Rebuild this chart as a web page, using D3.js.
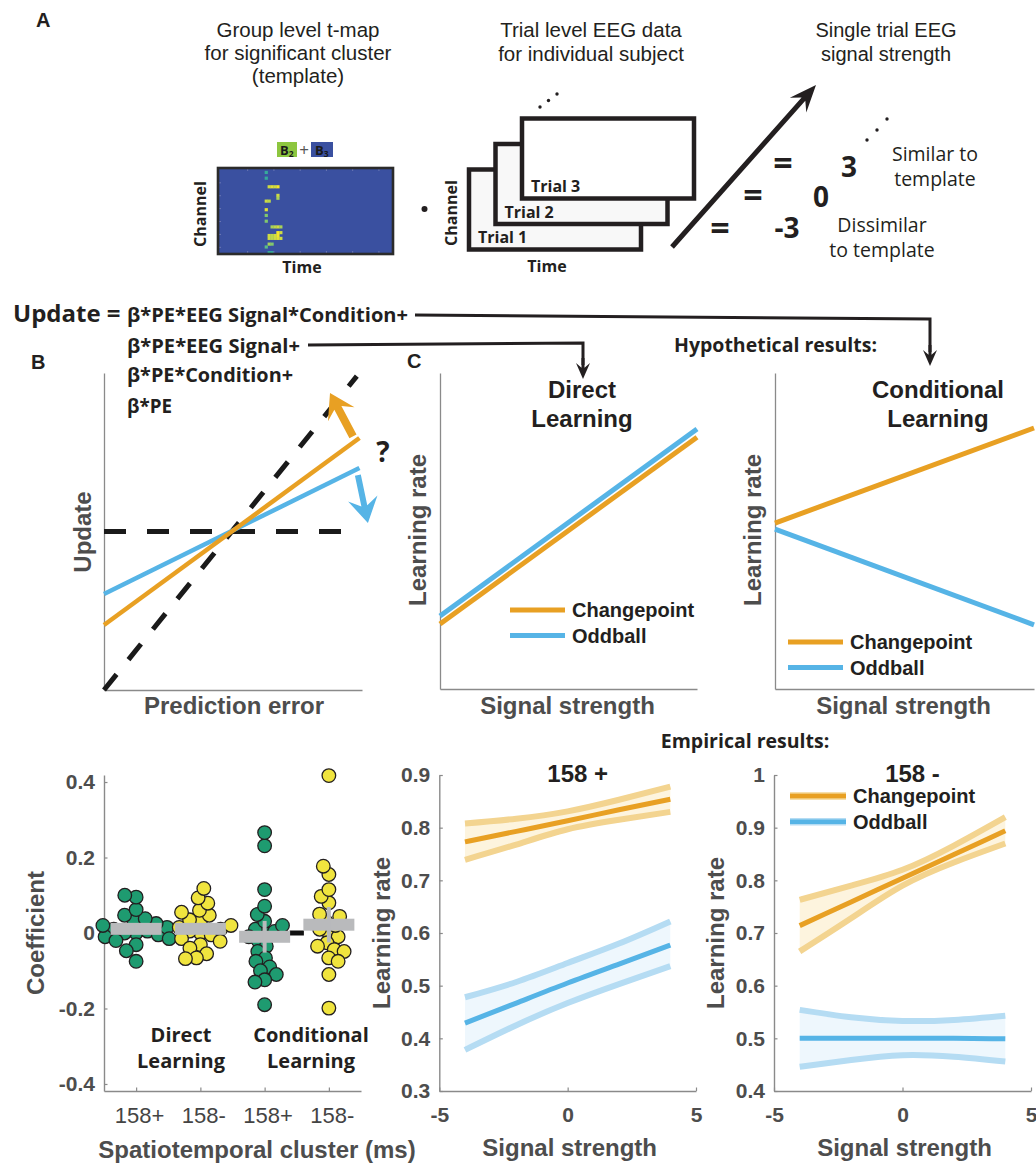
<!DOCTYPE html>
<html><head><meta charset="utf-8">
<script src="https://cdn.jsdelivr.net/npm/d3@7"></script>
<style>body{margin:0;background:#fff}svg{display:block}</style>
</head><body>
<svg id="fig" width="1036" height="1164"></svg>
<script>
// ---------------- DATA ----------------
// Panel A: template t-map spots [timeBin, channelBin, normalised t]
const tmapSpots = [[16,1,0.45],[16,3,0.45],[17,6,0.9],[18,6,0.95],[19,6,0.9],[20,6,1],[20,9,0.9],[16,11,0.9],[17,11,0.85],[20,10,0.8],[16,14,0.95],[16,16,0.7],[16,18,0.7],[18,20,0.8],[19,20,0.85],[20,20,0.9],[21,20,0.8],[20,22,1],[21,22,0.9],[17,23,0.9],[18,23,0.85],[19,23,0.9],[20,23,1],[17,24,0.9],[18,24,0.85],[19,24,0.9],[20,24,0.95],[21,24,0.9],[17,26,0.8],[18,26,0.7],[16,27,0.6],[17,29,0.5],[18,29,0.5]];
const trialLabels = ["Trial 1","Trial 2","Trial 3"];
const signalValues = ["-3","0","3"];
const headerTemplate = ["Group level t-map", "for significant cluster", "(template)"];
const headerTrials = ["Trial level EEG data", "for individual subject"];
const headerSignal = ["Single trial EEG", "signal strength"];

// Formula
const formulaLines = ["β*PE*EEG Signal*Condition+","β*PE*EEG Signal+","β*PE*Condition+","β*PE"];

// Panel B (prediction error vs update, normalised units)
const bLineX = [0, 0.99];
const bChangepoint = [0.205, 0.795];
const bOddball = [0.303, 0.700];
const bIdentityX = [0, 0.98], bIdentityY = [0, 0.99];
const bFlatX = [0, 0.95], bFlatY = [0.5, 0.5];
const bArrowCP = [[0.965, 0.80], [0.876, 0.937]];
const bArrowOB = [[0.984, 0.678], [1.023, 0.527]];

// Panel C hypothetical
const hypoX = [0, 1];
const directCP = [0.206, 0.797], directOB = [0.231, 0.823];
const condCP = [0.525, 0.826], condOB = [0.506, 0.203];
const legendNames = ["Changepoint", "Oddball"];

// Empirical: coefficients per subject
const coefDirectPlus = [0.100, 0.095, 0.062, 0.047, 0.038, 0.030, 0.025, 0.020, 0.015, 0.010, 0.005, 0, 0, -0.005, -0.010, -0.015, -0.020, -0.031, -0.047, -0.075];
const coefDirectMinus = [0.118, 0.093, 0.079, 0.060, 0.055, 0.047, 0.035, 0.030, 0.020, 0.015, 0.010, 0.005, 0, -0.005, -0.015, -0.022, -0.031, -0.040, -0.055, -0.066, -0.068];
const coefCondPlus = [0.266, 0.231, 0.115, 0.071, 0.049, 0.031, 0.020, 0.010, 0.004, 0, -0.010, -0.020, -0.035, -0.049, -0.066, -0.075, -0.090, -0.100, -0.110, -0.124, -0.130, -0.190];
const coefCondMinus = [0.417, 0.177, 0.155, 0.115, 0.097, 0.080, 0.050, 0.044, 0.030, 0.020, 0.010, 0, -0.010, -0.026, -0.035, -0.044, -0.049, -0.066, -0.075, -0.110, -0.199];
const coefMeans = [0.011, 0.011, -0.010, 0.022];
const coefSEM = [0.012, 0.013, 0.042, 0.047];
const clusterLabels = ["158+", "158-", "158+", "158-"];
const coefTicks = [-0.4, -0.2, 0, 0.2, 0.4];

// Empirical learning-rate fits
const sigX = [-4, -2, 0, 2, 4];
const plusCPmean = [0.773, 0.793, 0.813, 0.834, 0.854];
const plusCPlo   = [0.739, 0.768, 0.797, 0.815, 0.830];
const plusCPhi   = [0.808, 0.817, 0.831, 0.853, 0.878];
const plusOBmean = [0.429, 0.467, 0.505, 0.541, 0.577];
const plusOBlo   = [0.378, 0.425, 0.467, 0.503, 0.537];
const plusOBhi   = [0.478, 0.507, 0.543, 0.580, 0.622];
const minusCPmean = [0.714, 0.759, 0.804, 0.849, 0.894];
const minusCPlo   = [0.665, 0.728, 0.790, 0.834, 0.870];
const minusCPhi   = [0.763, 0.790, 0.820, 0.866, 0.920];
const minusOBmean = [0.500, 0.500, 0.500, 0.500, 0.499];
const minusOBlo   = [0.446, 0.459, 0.468, 0.465, 0.456];
const minusOBhi   = [0.554, 0.540, 0.533, 0.535, 0.543];
const lrTicksPlus = [0.3, 0.4, 0.5, 0.6, 0.7, 0.8, 0.9];
const lrTicksMinus = [0.4, 0.5, 0.6, 0.7, 0.8, 0.9, 1];
const sigTicks = [-5, 0, 5];

// ---------------- STYLE ----------------
const MYR = "'Open Sans','Noto Sans',sans-serif";
const HEL = "'Liberation Sans',Arial,sans-serif";
const INK = "#231f20", GRAY = "#4d4d4d", AX = "#8a8a8a";
const ORG = "#e8a023", BLU = "#56b4e6";
const ORG_CI = "#f3d490", BLU_CI = "#b5dcf3", ORG_F = "#fdf4de", BLU_F = "#eef7fd";
const GREEN = "#1e9b70", YEL = "#f0e43e";

const svg = d3.select("#fig");
svg.append("rect").attr("width", 1036).attr("height", 1164).attr("fill", "#fff");

function txt(g, x, y, s, o = {}) {
  const t = g.append("text").attr("x", x).attr("y", y).text(s)
    .attr("font-family", o.ff || MYR).attr("font-size", o.fs || 20)
    .attr("font-weight", o.fw || "normal").attr("fill", o.fill || INK)
    .attr("text-anchor", o.anchor || "start");
  if (o.rot) t.attr("transform", `rotate(${o.rot},${x},${y})`);
  if (o.len) t.attr("textLength", o.len).attr("lengthAdjust", "spacingAndGlyphs");
  return t;
}
function arrowPoly(x1, y1, x2, y2, sw, hl, hw, concave = 0.25) {
  const dx = x2 - x1, dy = y2 - y1, L = Math.hypot(dx, dy), ux = dx / L, uy = dy / L, px = -uy, py = ux;
  const bx = x2 - ux * hl, by = y2 - uy * hl;
  const jx = x2 - ux * hl * (1 - concave), jy = y2 - uy * hl * (1 - concave);
  const pts = [[x1 + px * sw / 2, y1 + py * sw / 2], [jx + px * sw / 2, jy + py * sw / 2], [bx + px * hw / 2, by + py * hw / 2], [x2, y2],
    [bx - px * hw / 2, by - py * hw / 2], [jx - px * sw / 2, jy - py * sw / 2], [x1 - px * sw / 2, y1 - py * sw / 2]];
  return "M" + pts.map(p => p.join(",")).join("L") + "Z";
}

// ---------------- PANEL A ----------------
const gA = svg.append("g");
txt(gA, 36, 27, "A", { ff: HEL, fw: "bold", fs: 20 });
headerTemplate.forEach((s, i) => txt(gA, 298, 37 + i * 23, s, { ff: HEL, anchor: "middle", fs: 20.5 }));
headerTrials.forEach((s, i) => txt(gA, 591, 37 + i * 23.5, s, { ff: HEL, anchor: "middle", fs: 20.5 }));
headerSignal.forEach((s, i) => txt(gA, 886, 37 + i * 24, s, { ff: HEL, anchor: "middle", fs: 20 }));

// heatmap
const hx = d3.scaleLinear().domain([0, 60]).range([218, 393]);
const hy = d3.scaleLinear().domain([0, 30]).range([168, 254]);
const tcol = d3.scaleLinear().domain([0, 0.5, 1]).range(["#3a50a0", "#35b49a", "#f4e62c"]);
gA.append("rect").attr("x", hx(0)).attr("y", hy(0)).attr("width", hx(60) - hx(0)).attr("height", hy(30) - hy(0)).attr("fill", "#3a50a0");
gA.selectAll(".spot").data(tmapSpots).join("rect").attr("x", d => hx(d[0])).attr("y", d => hy(d[1]))
  .attr("width", hx(1) - hx(0) + 0.3).attr("height", hy(1) - hy(0) + 0.3).attr("fill", d => tcol(d[2]));
const tickT = [10, 19, 28, 37, 46, 55], tickC = [5, 9.5, 14, 18.5, 23, 27.5];
gA.append("g").attr("transform", `translate(0,${hy(30)})`).call(d3.axisBottom(hx).tickValues(tickT).tickSize(-3).tickFormat("")).call(a => a.select(".domain").remove()).selectAll("line").attr("stroke", "#6b78b5");
gA.append("g").attr("transform", `translate(0,${hy(0)})`).call(d3.axisTop(hx).tickValues(tickT).tickSize(-3).tickFormat("")).call(a => a.select(".domain").remove()).selectAll("line").attr("stroke", "#6b78b5");
gA.append("g").attr("transform", `translate(${hx(0)},0)`).call(d3.axisLeft(hy).tickValues(tickC).tickSize(-3).tickFormat("")).call(a => a.select(".domain").remove()).selectAll("line").attr("stroke", "#6b78b5");
gA.append("rect").attr("x", hx(0)).attr("y", hy(0)).attr("width", hx(60) - hx(0)).attr("height", hy(30) - hy(0)).attr("fill", "none").attr("stroke", "#2b2b2b").attr("stroke-width", 2.6);
txt(gA, 206, 214, "Channel", { anchor: "middle", fw: "bold", fs: 16, rot: -90 });
txt(gA, 302, 273, "Time", { anchor: "middle", fw: "bold", fs: 16 });
// B2 + B3 badges
gA.append("rect").attr("x", 277).attr("y", 142).attr("width", 20).attr("height", 15).attr("fill", "#8dc63f");
gA.append("rect").attr("x", 311).attr("y", 142).attr("width", 22).attr("height", 15).attr("fill", "#3a50a0");
[["B", "2", 280], ["B", "3", 315]].forEach(([b, s, x]) => {
  const t = txt(gA, x, 155, b, { fw: "bold", fs: 13, fill: "#1a1a1a" });
  t.append("tspan").attr("font-size", 8.5).attr("dy", 2).text(s);
});
txt(gA, 304, 156, "+", { anchor: "middle", fs: 17, fill: "#555" });

// bullet
gA.append("circle").attr("cx", 424.5).attr("cy", 209).attr("r", 3).attr("fill", INK);
// trial boxes
const boxW = 172, boxH = 80;
trialLabels.forEach((lab, i) => {
  const x = 469 + i * 26.5, y = 169.5 - i * 25.5;
  gA.append("rect").attr("x", x).attr("y", y).attr("width", boxW).attr("height", boxH)
    .attr("fill", i === 2 ? "#ffffff" : "#f8f8f8").attr("stroke", INK).attr("stroke-width", 4.5);
});
trialLabels.forEach((lab, i) => txt(gA, 478 + i * 26.5, 243 - i * 25.5, lab, { fw: "bold", fs: 16 }));
txt(gA, 457, 213, "Channel", { anchor: "middle", fw: "bold", fs: 16, rot: -90 });
txt(gA, 547, 272, "Time", { anchor: "middle", fw: "bold", fs: 16 });
[[540, 107], [548.5, 100.5], [557, 94], [867, 140], [877, 130], [887, 119]].forEach(p =>
  gA.append("circle").attr("cx", p[0]).attr("cy", p[1]).attr("r", 1.7).attr("fill", INK));
// big arrow
gA.append("path").attr("d", arrowPoly(672, 247, 816, 85, 5, 27, 22, 0.3)).attr("fill", INK);
// equals + values
[[720, 240], [753, 207], [783, 175]].forEach(p => txt(gA, p[0], p[1], "=", { anchor: "middle", fw: "bold", fs: 34 }));
[[787, 238], [821, 207], [849, 177]].forEach((p, i) => txt(gA, p[0], p[1], signalValues[i], { anchor: "middle", fw: "bold", fs: 28 }));
txt(gA, 935, 161, "Similar to", { anchor: "middle", fs: 19.5 });
txt(gA, 935, 186, "template", { anchor: "middle", fs: 19.5 });
txt(gA, 882, 232, "Dissimilar", { anchor: "middle", fs: 19.5 });
txt(gA, 882, 257, "to template", { anchor: "middle", fs: 19.5 });

// ---------------- FORMULA ----------------
const gF = svg.append("g");
txt(gF, 13, 322, "Update =", { fw: "bold", fs: 24 });
const fBase = [322, 353, 382, 413], fLen = [281, 173, 166, 45];
formulaLines.forEach((s, i) => txt(gF, 127, fBase[i], s, { fw: "bold", fs: 20, len: fLen[i] }));
gF.append("path").attr("d", "M415,315 L930,319 L930,352").attr("fill", "none").attr("stroke", INK).attr("stroke-width", 3);
gF.append("path").attr("d", arrowPoly(930, 345, 930, 366, 3, 16, 14, 0.3)).attr("fill", INK);
gF.append("path").attr("d", "M308,345 L583,343 L583,365").attr("fill", "none").attr("stroke", INK).attr("stroke-width", 3);
gF.append("path").attr("d", arrowPoly(583, 358, 583, 379, 3, 16, 14, 0.3)).attr("fill", INK);

// ---------------- PANEL B ----------------
const gB = svg.append("g");
txt(gB, 31, 369, "B", { ff: HEL, fw: "bold", fs: 20 });
const xB = d3.scaleLinear().domain([0, 1]).range([104, 362]);
const yB = d3.scaleLinear().domain([0, 1]).range([690, 373]);
function axesLines(g, x, y) {
  g.append("g").attr("transform", `translate(0,${y.range()[0]})`).call(d3.axisBottom(x).tickValues([]).tickSizeOuter(0))
    .select(".domain").attr("stroke", AX).attr("stroke-width", 1.3);
  g.append("g").attr("transform", `translate(${x.range()[0]},0)`).call(d3.axisLeft(y).tickValues([]).tickSizeOuter(0))
    .select(".domain").attr("stroke", AX).attr("stroke-width", 1.3);
}
axesLines(gB, xB, yB);
const lineB = (xs, ys) => d3.line().x((d, i) => xB(xs[i])).y((d, i) => yB(ys[i]))(xs);
gB.append("path").attr("d", lineB(bFlatX, bFlatY)).attr("stroke", "#1a1a1a").attr("stroke-width", 5).attr("stroke-dasharray", "22 21").attr("fill", "none");
gB.append("path").attr("d", lineB(bIdentityX, bIdentityY)).attr("stroke", "#1a1a1a").attr("stroke-width", 5).attr("stroke-dasharray", "20 19").attr("fill", "none");
gB.append("path").attr("d", lineB(bLineX, bOddball)).attr("stroke", BLU).attr("stroke-width", 4.5).attr("fill", "none");
gB.append("path").attr("d", lineB(bLineX, bChangepoint)).attr("stroke", ORG).attr("stroke-width", 4.5).attr("fill", "none");
gB.append("path").attr("d", arrowPoly(xB(bArrowCP[0][0]), yB(bArrowCP[0][1]), xB(bArrowCP[1][0]), yB(bArrowCP[1][1]), 8, 24, 30, 0.3)).attr("fill", ORG);
gB.append("path").attr("d", arrowPoly(xB(bArrowOB[0][0]), yB(bArrowOB[0][1]), xB(bArrowOB[1][0]), yB(bArrowOB[1][1]), 6, 25, 30, 0.3)).attr("fill", BLU);
txt(gB, 383, 462, "?", { anchor: "middle", fw: "bold", fs: 28 });
txt(gB, 91, 532, "Update", { ff: HEL, fw: "bold", fs: 24, fill: GRAY, anchor: "middle", rot: -90 });
txt(gB, 234, 714, "Prediction error", { ff: HEL, fw: "bold", fs: 24, fill: GRAY, anchor: "middle" });

// ---------------- PANEL C ----------------
const gC = svg.append("g");
txt(gC, 407, 368, "C", { ff: HEL, fw: "bold", fs: 20 });
txt(gC, 877, 352, "Hypothetical results:", { fw: "bold", fs: 19.5, anchor: "end" });
function hypoPanel(x0, x1, cp, ob, title, legY, legX, labX, labBase) {
  const x = d3.scaleLinear().domain([0, 1]).range([x0, x1]);
  const y = d3.scaleLinear().domain([0, 1]).range([689, 373]);
  axesLines(gC, x, y);
  const ln = ys => d3.line().x((d, i) => x(hypoX[i])).y((d, i) => y(ys[i]))(hypoX);
  gC.append("path").attr("d", ln(ob)).attr("stroke", BLU).attr("stroke-width", 5).attr("fill", "none");
  gC.append("path").attr("d", ln(cp)).attr("stroke", ORG).attr("stroke-width", 5).attr("fill", "none");
  title.forEach((s, i) => txt(gC, labX, 398 + i * 29, s, { ff: HEL, fw: "bold", fs: 24, anchor: "middle" }));
  [ORG, BLU].forEach((c, i) => {
    gC.append("line").attr("x1", legX).attr("x2", legX + 55).attr("y1", legY + i * 25.5).attr("y2", legY + i * 25.5).attr("stroke", c).attr("stroke-width", 5);
    txt(gC, legX + 62, legY + i * 25.5 + 7, legendNames[i], { ff: HEL, fw: "bold", fs: 20 });
  });
  txt(gC, labBase, 530, "Learning rate", { ff: HEL, fw: "bold", fs: 24, fill: GRAY, anchor: "middle", rot: -90 });
  txt(gC, (x0 + x1) / 2 - 1, 714, "Signal strength", { ff: HEL, fw: "bold", fs: 24, fill: GRAY, anchor: "middle" });
}
hypoPanel(440, 697, directCP, directOB, ["Direct", "Learning"], 610, 510, 582, 426);
hypoPanel(775, 1034, condCP, condOB, ["Conditional", "Learning"], 642, 788, 938, 761);

// ---------------- EMPIRICAL ----------------
const gE = svg.append("g");
txt(gE, 745, 748, "Empirical results:", { fw: "bold", fs: 19.5, anchor: "middle" });

function styleAxis(a) {
  a.select(".domain").attr("stroke", AX).attr("stroke-width", 1.4);
  a.selectAll(".tick line").attr("stroke", AX).attr("stroke-width", 1.2);
  a.selectAll(".tick text").attr("fill", GRAY).attr("font-family", HEL).attr("font-weight", "bold").attr("font-size", 21);
}

// scatter (coefficients)
const xD = d3.scaleLinear().domain([0.5, 4.5]).range([104, 361]);
const yD = d3.scaleLinear().domain([-0.4186, 0.4186]).range([1091, 775]);
gE.append("g").attr("transform", "translate(104,0)").call(d3.axisLeft(yD).tickValues(coefTicks).tickSizeInner(-3.5).tickSizeOuter(0).tickPadding(9).tickFormat(d => String(d))).call(styleAxis);
gE.append("g").attr("transform", "translate(0,1091)").call(d3.axisBottom(xD).tickValues([1, 2, 3, 4]).tickSizeInner(-3.5).tickSizeOuter(0).tickPadding(16).tickFormat((d, i) => clusterLabels[i]))
  .call(styleAxis).call(a => a.selectAll(".tick text").attr("font-weight", "normal").attr("font-size", 22).attr("fill", "#444").attr("dx", 3));

// swarm layout with partial overlap allowed (collision distance dmin < diameter)
function swarm(values, cx, y, dmin) {
  const pts = values.map(v => ({ v, y: y(v) })).sort((a, b) => Math.abs(a.v) - Math.abs(b.v));
  const placed = [];
  for (const p of pts) {
    const iv = [];
    for (const q of placed) {
      const dy = Math.abs(q.y - p.y);
      if (dy < dmin) { const w = Math.sqrt(dmin * dmin - dy * dy); iv.push([q.x - w, q.x + w]); }
    }
    const cands = [cx, ...iv.flat()].sort((a, b) => Math.abs(a - cx) - Math.abs(b - cx));
    for (const c of cands) { if (iv.every(([a, b]) => c <= a + 1e-6 || c >= b - 1e-6)) { p.x = c; break; } }
    placed.push(p);
  }
  return placed;
}
const groups = [coefDirectPlus, coefDirectMinus, coefCondPlus, coefCondMinus];
const gCols = [GREEN, YEL, GREEN, YEL];
const R = 6.8;
const swarmGap = [11.5, 11, 10, 10];
groups.forEach((vals, gi) => {
  const pts = swarm(vals, xD(gi + 1), yD, swarmGap[gi]);
  gE.append("g").selectAll("circle").data(pts).join("circle").attr("cx", d => d.x).attr("cy", d => d.y).attr("r", R)
    .attr("fill", gCols[gi]).attr("stroke", INK).attr("stroke-width", 1.3);
});
gE.append("line").attr("x1", xD(3) + 25).attr("x2", xD(4) - 25).attr("y1", yD(0)).attr("y2", yD(0)).attr("stroke", "#111").attr("stroke-width", 5);
coefMeans.forEach((m, i) => {
  gE.append("rect").attr("x", xD(i + 1) - 25.5).attr("y", yD(m) - 6).attr("width", 51).attr("height", 12).attr("fill", "#b9babc");
  gE.append("line").attr("x1", xD(i + 1)).attr("x2", xD(i + 1)).attr("y1", yD(m + coefSEM[i])).attr("y2", yD(m - coefSEM[i])).attr("stroke", "#b9babc").attr("stroke-width", 4);
});
[["Direct", 181], ["Learning", 181]].forEach((d, i) => txt(gE, d[1], 1042 + i * 26, d[0], { fw: "bold", fs: 20, anchor: "middle" }));
[["Conditional", 311], ["Learning", 311]].forEach((d, i) => txt(gE, d[1], 1042 + i * 26, d[0], { fw: "bold", fs: 20, anchor: "middle" }));
txt(gE, 44, 933, "Coefficient", { ff: HEL, fw: "bold", fs: 24, fill: GRAY, anchor: "middle", rot: -90 });
txt(gE, 257, 1158, "Spatiotemporal cluster (ms)", { ff: HEL, fw: "bold", fs: 24, fill: GRAY, anchor: "middle" });

// CI panels
function ciPanel(x, y, yTicks, sets, title, labBase) {
  const [x0, x1] = x.range();
  gE.append("g").attr("transform", `translate(${x0},0)`).call(d3.axisLeft(y).tickValues(yTicks).tickSizeInner(-3.5).tickSizeOuter(0).tickPadding(9).tickFormat(d => String(d))).call(styleAxis);
  gE.append("g").attr("transform", "translate(0,1091)").call(d3.axisBottom(x).tickValues(sigTicks).tickSizeInner(-3.5).tickSizeOuter(0).tickPadding(16).tickFormat(d => String(d))).call(styleAxis);
  sets.forEach(s => {
    const area = d3.area().x((d, i) => x(sigX[i])).y0((d, i) => y(s.lo[i])).y1((d, i) => y(s.hi[i])).curve(d3.curveNatural);
    gE.append("path").attr("d", area(sigX)).attr("fill", s.fill);
    const ln = arr => d3.line().x((d, i) => x(sigX[i])).y((d, i) => y(arr[i])).curve(d3.curveNatural)(sigX);
    [s.lo, s.hi].forEach(a => gE.append("path").attr("d", ln(a)).attr("fill", "none").attr("stroke", s.ci).attr("stroke-width", 6));
    gE.append("path").attr("d", ln(s.mean)).attr("fill", "none").attr("stroke", s.col).attr("stroke-width", 5);
  });
  txt(gE, (x0 + x1) / 2 + 10, 782, title, { ff: HEL, fw: "bold", fs: 24, anchor: "middle" });
  txt(gE, labBase, 933, "Learning rate", { ff: HEL, fw: "bold", fs: 24, fill: GRAY, anchor: "middle", rot: -90 });
  txt(gE, (x0 + x1) / 2 + 2, 1156, "Signal strength", { ff: HEL, fw: "bold", fs: 24, fill: GRAY, anchor: "middle" });
}
const xE = d3.scaleLinear().domain([-5, 5]).range([439.3, 696]);
const yE = d3.scaleLinear().domain([0.3, 0.9]).range([1091, 775]);
ciPanel(xE, yE, lrTicksPlus, [
  { mean: plusCPmean, lo: plusCPlo, hi: plusCPhi, col: ORG, ci: ORG_CI, fill: ORG_F },
  { mean: plusOBmean, lo: plusOBlo, hi: plusOBhi, col: BLU, ci: BLU_CI, fill: BLU_F }], "158 +", 390);
const xF = d3.scaleLinear().domain([-5, 5]).range([774, 1031]);
const yF = d3.scaleLinear().domain([0.4, 1]).range([1091, 775]);
ciPanel(xF, yF, lrTicksMinus, [
  { mean: minusCPmean, lo: minusCPlo, hi: minusCPhi, col: ORG, ci: ORG_CI, fill: ORG_F },
  { mean: minusOBmean, lo: minusOBlo, hi: minusOBhi, col: BLU, ci: BLU_CI, fill: BLU_F }], "158 -", 724);
// legend 158-
[[ORG, ORG_CI], [BLU, BLU_CI]].forEach((c, i) => {
  const yy = 796 + i * 25.7;
  gE.append("line").attr("x1", 790).attr("x2", 846).attr("y1", yy).attr("y2", yy).attr("stroke", c[1]).attr("stroke-width", 7.5);
  gE.append("line").attr("x1", 790).attr("x2", 846).attr("y1", yy).attr("y2", yy).attr("stroke", c[0]).attr("stroke-width", 4.5);
  txt(gE, 853, yy + 7, legendNames[i], { ff: HEL, fw: "bold", fs: 20 });
});
</script>
</body></html>
